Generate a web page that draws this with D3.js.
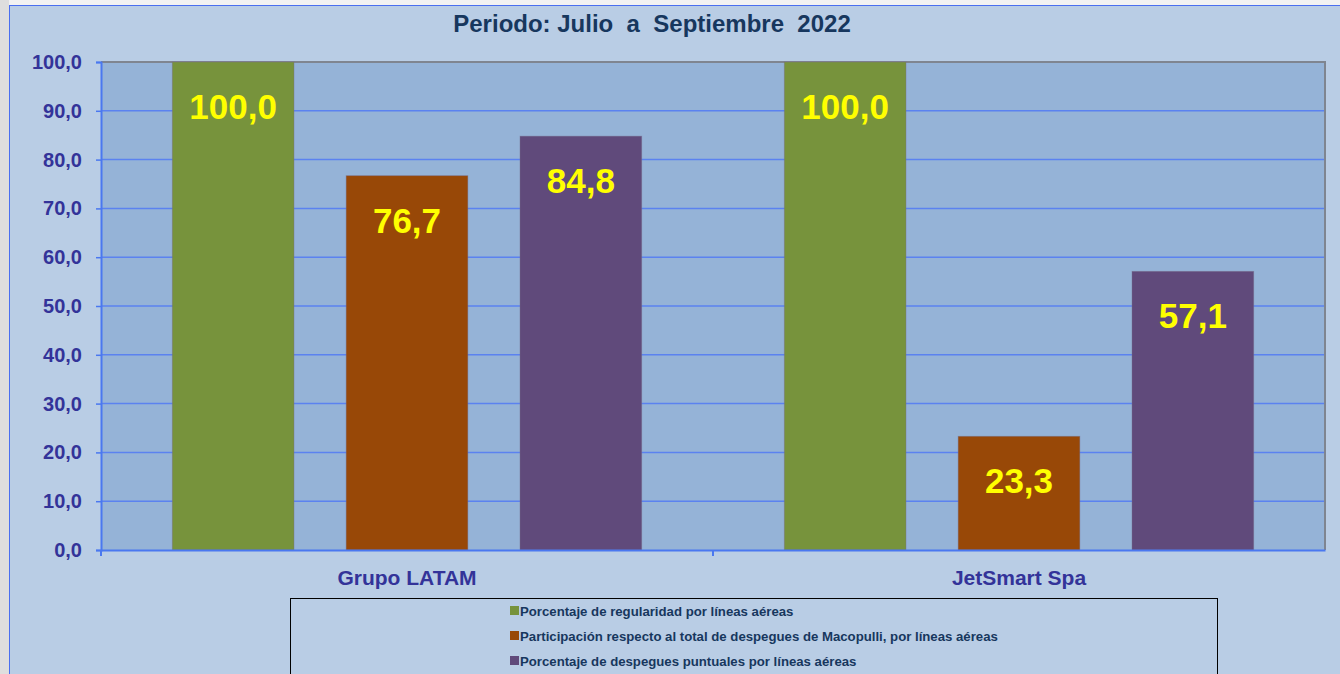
<!DOCTYPE html>
<html>
<head>
<meta charset="utf-8">
<script src="https://cdn.jsdelivr.net/npm/d3@7"></script>
<style>
  body { margin: 0; background: #f2f2f2; }
  svg { display: block; font-family: "Liberation Sans", Arial, sans-serif; }
</style>
</head>
<body>
<svg id="chart"></svg>
<script>
// data
const airlines = ["Grupo LATAM", "JetSmart Spa"];
const seriesNames = [
    "Porcentaje de regularidad por líneas aéreas",
    "Participación respecto al total de despegues de Macopulli, por líneas aéreas",
    "Porcentaje de despegues puntuales por líneas aéreas"
];
const regularidad = [100.0, 100.0];
const participacion = [76.7, 23.3];
const puntuales = [84.8, 57.1];
const yTicks = [0, 10, 20, 30, 40, 50, 60, 70, 80, 90, 100];
const seriesColors = ["#77933c", "#984807", "#604a7b"];

const width = 1340;
const height = 674;
const plot = { left: 101, right: 1325, top: 62, bottom: 550 };

const fmt = v => d3.format(".1f")(v).replace(".", ",");

const svg = d3.select("#chart")
    .attr("width", width)
    .attr("height", height);

// outer chart background
svg.append("rect")
    .attr("x", 0).attr("y", 0).attr("width", 9).attr("height", height)
    .attr("fill", "#dedede");
svg.append("rect")
    .attr("x", 9.5).attr("y", 5.5).attr("width", width).attr("height", height)
    .attr("fill", "#b9cde5")
    .attr("stroke", "#4a6ff0")
    .attr("stroke-width", 1);

// plot area
svg.append("rect")
    .attr("x", plot.left).attr("y", plot.top)
    .attr("width", plot.right - plot.left).attr("height", plot.bottom - plot.top)
    .attr("fill", "#95b3d7");

// scales
const x0 = d3.scaleBand()
    .domain(airlines)
    .range([plot.left, plot.right]);

const x1 = d3.scaleBand()
    .domain(d3.range(seriesNames.length))
    .range([0, x0.bandwidth()])
    .paddingInner(0.3)
    .paddingOuter(0.41);

const y = d3.scaleLinear()
    .domain([0, 100])
    .range([plot.bottom, plot.top]);

// gridlines
svg.append("g")
    .selectAll("line")
    .data(yTicks.slice(1, -1))
    .join("line")
    .attr("x1", plot.left).attr("x2", plot.right)
    .attr("y1", d => y(d)).attr("y2", d => y(d))
    .attr("stroke", "#5b82f0")
    .attr("stroke-width", 1.5);

// top and right border of plot
svg.append("path")
    .attr("d", `M${plot.left},${plot.top}H${plot.right}V${plot.bottom}`)
    .attr("fill", "none")
    .attr("stroke", "#7f8590")
    .attr("stroke-width", 2);

// bars
const series = [regularidad, participacion, puntuales];
const barData = [];
airlines.forEach((a, i) => {
    series.forEach((s, j) => barData.push({ airline: a, k: j, value: s[i] }));
});

svg.append("g")
    .selectAll("rect")
    .data(barData)
    .join("rect")
    .attr("x", d => x0(d.airline) + x1(d.k))
    .attr("y", d => y(d.value))
    .attr("width", x1.bandwidth())
    .attr("height", d => y(0) - y(d.value))
    .attr("fill", d => seriesColors[d.k])
    .attr("stroke", "rgba(120,110,140,0.5)")
    .attr("stroke-width", 0.8);

// value labels
svg.append("g")
    .selectAll("text")
    .data(barData)
    .join("text")
    .attr("x", d => x0(d.airline) + x1(d.k) + x1.bandwidth() / 2)
    .attr("y", d => y(d.value) + 57)
    .attr("text-anchor", "middle")
    .attr("fill", "#ffff00")
    .attr("font-size", 35)
    .attr("font-weight", "bold")
    .text(d => fmt(d.value));

// y axis
const yAxis = d3.axisLeft(y)
    .tickValues(yTicks)
    .tickFormat(fmt)
    .tickSize(5)
    .tickPadding(14);

const gy = svg.append("g")
    .attr("transform", `translate(${plot.left},0)`)
    .call(yAxis);
gy.select(".domain").attr("stroke", "#4a78f0").attr("stroke-width", 2);
gy.selectAll(".tick line").attr("stroke", "#4a78f0").attr("stroke-width", 1.5);
gy.selectAll(".tick text")
    .attr("fill", "#333399")
    .attr("font-size", 20)
    .attr("font-weight", "bold")
    .attr("font-family", "Liberation Sans, Arial, sans-serif");

// x axis
const xAxis = d3.axisBottom(x0)
    .tickSize(0)
    .tickPadding(20);

const gx = svg.append("g")
    .attr("transform", `translate(0,${plot.bottom})`)
    .call(xAxis);
gx.select(".domain").attr("stroke", "#4a78f0").attr("stroke-width", 2);
gx.selectAll(".tick text")
    .attr("fill", "#333399")
    .attr("font-size", 21)
    .attr("font-weight", "bold")
    .attr("font-family", "Liberation Sans, Arial, sans-serif");

// separator ticks between categories
svg.append("g")
    .selectAll("line")
    .data(airlines)
    .join("line")
    .attr("x1", d => x0(d)).attr("x2", d => x0(d))
    .attr("y1", plot.bottom).attr("y2", plot.bottom + 6)
    .attr("stroke", "#4a78f0")
    .attr("stroke-width", 2);

// title
svg.append("text")
    .attr("x", 652)
    .attr("y", 32)
    .attr("text-anchor", "middle")
    .attr("fill", "#17375e")
    .attr("font-size", 24)
    .attr("font-weight", "bold")
    .attr("xml:space", "preserve")
    .text("Periodo: Julio  a  Septiembre  2022");

// legend
const legend = svg.append("g");
legend.append("rect")
    .attr("x", 290.5).attr("y", 598.5)
    .attr("width", 927).attr("height", 90)
    .attr("fill", "none")
    .attr("stroke", "#000")
    .attr("stroke-width", 1);

const legendItems = legend.selectAll("g")
    .data(seriesNames)
    .join("g")
    .attr("transform", (d, i) => `translate(510,${611 + i * 25})`);

legendItems.append("rect")
    .attr("x", 0).attr("y", -5)
    .attr("width", 9).attr("height", 9)
    .attr("fill", (d, i) => seriesColors[i]);

legendItems.append("text")
    .attr("x", 10)
    .attr("y", 4.5)
    .attr("fill", "#17375e")
    .attr("font-size", 13.2)
    .attr("font-weight", "bold")
    .text(d => d);
</script>
</body>
</html>
